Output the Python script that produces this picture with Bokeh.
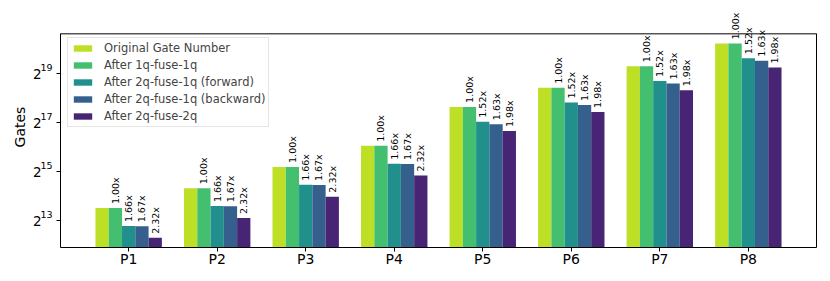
import numpy as np
from bokeh.plotting import figure
from bokeh.models import FixedTicker, ColumnDataSource, LogAxis, Span
from bokeh.core.properties import value
from bokeh.embed import file_html
from bokeh.resources import INLINE

programs = ["P1", "P2", "P3", "P4", "P5", "P6", "P7", "P8"]
series_names = ["Original Gate Number", "After 1q-fuse-1q", "After 2q-fuse-1q (forward)",
                "After 2q-fuse-1q (backward)", "After 2q-fuse-2q"]
colors = ["#bddf26", "#44bf70", "#21908d", "#355f8d", "#482475"]

original = [11740, 20600, 37600, 68300, 205500, 353000, 650000, 1240000]
after_1q1q = [11740, 20600, 37600, 68300, 205500, 353000, 650000, 1240000]
after_2q1q_fwd = [7070, 12410, 22650, 41150, 135200, 232200, 427600, 815800]
after_2q1q_bwd = [7030, 12340, 22510, 40900, 126100, 216600, 398800, 760700]
after_2q2q = [5060, 8880, 16210, 29440, 103800, 178300, 328300, 626300]

labels_1q1q = ["1.00x"] * 8
labels_2q1q_fwd = ["1.66x", "1.66x", "1.66x", "1.66x", "1.52x", "1.52x", "1.52x", "1.52x"]
labels_2q1q_bwd = ["1.67x", "1.67x", "1.67x", "1.67x", "1.63x", "1.63x", "1.63x", "1.63x"]
labels_2q2q = ["2.32x", "2.32x", "2.32x", "2.32x", "1.98x", "1.98x", "1.98x", "1.98x"]

y_tick_exponents = [13, 15, 17, 19]
y_tick_base = "2"

series = [original, after_1q1q, after_2q1q_fwd, after_2q1q_bwd, after_2q2q]
series_labels = [None, labels_1q1q, labels_2q1q_fwd, labels_2q1q_bwd, labels_2q2q]

FONT = "DejaVu Sans"
bar_w = 0.15
n = len(series)

Y_LO = 3848          # bottom of the axes box
Y_BOX_TOP = 1625000  # top spine of the axes box
Y_HI = 3521000       # frame extends above the box so the value labels are not clipped

p = figure(frame_width=756, frame_height=241, y_axis_type="log",
           x_range=(-0.77, 7.77), y_range=(Y_LO, Y_HI),
           output_backend="svg", toolbar_location=None,
           min_border_left=60, min_border_right=10, min_border_top=6, min_border_bottom=33)
p.outline_line_color = None
p.xgrid.grid_line_color = None
p.ygrid.grid_line_color = None

xs = np.arange(len(programs))
for j, (vals, name, col) in enumerate(zip(series, series_names, colors)):
    off = (j - (n - 1) / 2) * bar_w
    src = ColumnDataSource(dict(x=xs + off, top=vals, bottom=[1] * len(vals)))
    p.vbar(x="x", top="top", bottom="bottom", width=bar_w, source=src,
           fill_color=col, line_color=None, legend_label=name)
    if series_labels[j] is not None:
        tsrc = ColumnDataSource(dict(x=xs + off, y=vals, t=series_labels[j]))
        p.text(x="x", y="y", text="t", source=tsrc, angle=np.pi / 2,
               text_align="left", text_baseline="middle", y_offset=-4,
               text_font=value(FONT), text_font_size="9.5px", text_color="black")

# top spine
p.add_layout(Span(location=Y_BOX_TOP, dimension="width", line_color="black", line_width=1))

y_ticks = [2 ** e for e in y_tick_exponents]

# x axis
xa = p.xaxis[0]
xa.ticker = FixedTicker(ticks=list(range(len(programs))))
xa.major_label_overrides = {i: lab for i, lab in enumerate(programs)}
xa.axis_line_color = "black"
xa.major_tick_line_color = "black"
xa.major_tick_out = 4
xa.major_tick_in = 0
xa.minor_tick_line_color = None
xa.major_label_text_font = FONT
xa.major_label_text_font_size = "14px"
xa.major_label_text_color = "black"
xa.major_label_standoff = -1

# inner left axis: spine, tick marks and exponents (raised by a blank second line)
ya = p.yaxis[0]
ya.bounds = (Y_LO, Y_BOX_TOP)
ya.ticker = FixedTicker(ticks=y_ticks)
ya.major_label_overrides = {t: str(e) + "\n " for t, e in zip(y_ticks, y_tick_exponents)}
ya.axis_line_color = "black"
ya.major_tick_line_color = "black"
ya.major_tick_out = 4
ya.major_tick_in = 0
ya.minor_tick_line_color = None
ya.major_label_text_font = FONT
ya.major_label_text_font_size = "9.5px"
ya.major_label_text_color = "black"
ya.major_label_standoff = 4

# outer left axis: base "2" of the tick labels and the axis title
yb = LogAxis(ticker=FixedTicker(ticks=y_ticks),
             major_label_overrides={t: y_tick_base for t in y_ticks},
             axis_line_color=None, major_tick_line_color=None, minor_tick_line_color=None,
             major_tick_out=0, major_tick_in=0, major_label_standoff=-4,
             major_label_text_font=FONT, major_label_text_font_size="13.5px",
             major_label_text_color="black",
             axis_label="Gates", axis_label_text_font=FONT, axis_label_text_font_size="14px",
             axis_label_text_font_style="normal", axis_label_text_color="black",
             axis_label_standoff=2)
p.add_layout(yb, "left")

# right spine
yr = LogAxis(bounds=(Y_LO, Y_BOX_TOP), ticker=FixedTicker(ticks=[]),
             axis_line_color="black", major_tick_line_color=None, minor_tick_line_color=None,
             major_tick_out=0, major_tick_in=0, major_label_text_font_size="0px")
p.add_layout(yr, "right")

p.legend.location = (7, 120)
p.legend.padding = 3
p.legend.spacing = 3
p.legend.label_standoff = 10
p.legend.glyph_width = 23
p.legend.glyph_height = 8
p.legend.label_height = 14
p.legend.label_text_font = FONT
p.legend.label_text_font_size = "11.5px"
p.legend.border_line_color = "#cccccc"
p.legend.background_fill_alpha = 0.8

open("out.html", "w").write(file_html(p, INLINE))
